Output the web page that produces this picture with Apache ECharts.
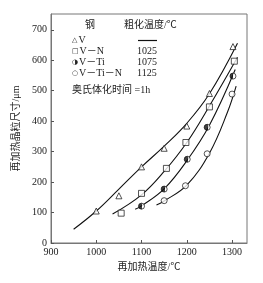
<!DOCTYPE html>
<html>
<head>
<meta charset="utf-8">
<script src="https://cdn.jsdelivr.net/npm/echarts@6/dist/echarts.min.js"></script>
<style>
  html, body { margin: 0; padding: 0; background: #fff; }
  #chart { width: 263px; height: 283px; }
</style>
</head>
<body>
<div id="chart"></div>
<script>
// measured points [temperature °C, grain size μm]
var vPts = [[1000, 105], [1050, 155], [1100, 250], [1150, 311], [1200, 384], [1250, 491], [1302, 645]];
var vnPts = [[1055, 98], [1100, 163], [1155, 245], [1198, 330], [1250, 447], [1305, 597]];
var vtiPts = [[1100, 121], [1150, 177], [1201, 275], [1245, 380], [1302, 548]];
var vtinPts = [[1150, 139], [1197, 188], [1245, 293], [1300, 489]];

// fitted curves
var vCurve = [[950, 45], [1000, 105], [1050, 177], [1100, 250], [1150, 318], [1200, 393], [1250, 490], [1312, 656]];
var vnCurve = [[1036, 95], [1100, 158], [1150, 235], [1200, 330], [1250, 450], [1312, 610]];
var vtiCurve = [[1086, 111], [1100, 122], [1150, 178], [1200, 270], [1250, 387], [1307, 570]];
var vtinCurve = [[1133, 125], [1150, 138], [1200, 190], [1250, 295], [1290, 430], [1309, 515]];

var xTicks = [900, 1000, 1100, 1200, 1300];
var yTicks = [0, 100, 200, 300, 400, 500, 600, 700];

var serif = "'Liberation Serif', 'DejaVu Serif', 'Noto Sans CJK SC', serif";
var cjk = "'Liberation Serif', 'Noto Sans CJK SC', serif";

var chart = echarts.init(document.getElementById("chart"));

function curve(data) {
  return {
    type: "line",
    data: data,
    smooth: 0.4,
    showSymbol: false,
    symbol: "none",
    lineStyle: { color: "#111", width: 1.1 },
    silent: true,
    z: 2
  };
}

function points(data, symbol, size, color) {
  return {
    type: "scatter",
    data: data,
    symbol: symbol,
    symbolSize: size,
    itemStyle: { color: color, borderColor: "#111", borderWidth: 0.9 },
    z: 3
  };
}

var halfFill = new echarts.graphic.LinearGradient(0, 0, 1, 0, [
  { offset: 0, color: "#111" },
  { offset: 0.55, color: "#111" },
  { offset: 0.55, color: "#fff" },
  { offset: 1, color: "#fff" }
]);

var legendRich = {
  m: { fontSize: 7, fontFamily: "'DejaVu Sans', sans-serif", fill: "#222", padding: [0, 1, 0, 0] },
  t: { fontSize: 10, fontFamily: serif, fill: "#222" }
};

function legendText(top, mark, label) {
  return {
    type: "text", left: 72, top: top,
    style: { text: "{m|" + mark + "}{t|" + label + "}", rich: legendRich }
  };
}

var option = {
  animation: false,
  grid: {
    left: 51,
    right: 16,
    top: 14,
    bottom: 40,
    show: true,
    borderColor: "#777",
    borderWidth: 1
  },
  xAxis: {
    type: "value",
    min: 900,
    max: 1333,
    interval: 100,
    name: "再加热温度/℃",
    nameLocation: "middle",
    nameGap: 18,
    nameTextStyle: { fontFamily: cjk, fontSize: 10, color: "#222" },
    axisLine: { show: true, lineStyle: { color: "#777" } },
    axisTick: { show: true, inside: true, length: 3, lineStyle: { color: "#555" } },
    axisLabel: {
      fontFamily: serif, fontSize: 10, color: "#222", margin: 4,
      showMaxLabel: false,
      formatter: function (v) { return xTicks.indexOf(v) >= 0 ? String(v) : ""; }
    },
    splitLine: { show: false }
  },
  yAxis: {
    type: "value",
    min: 0,
    max: 752,
    interval: 100,
    name: "再加热晶粒尺寸/μm",
    nameLocation: "middle",
    nameGap: 24,
    nameTextStyle: { fontFamily: cjk, fontSize: 10, color: "#222" },
    axisLine: { show: true, lineStyle: { color: "#777" } },
    axisTick: { show: true, inside: true, length: 3, lineStyle: { color: "#555" } },
    axisLabel: {
      fontFamily: serif, fontSize: 10, color: "#222", margin: 4,
      showMaxLabel: false,
      formatter: function (v) { return yTicks.indexOf(v) >= 0 ? String(v) : ""; }
    },
    splitLine: { show: false }
  },
  graphic: [
    { type: "text", left: 85, top: 20, style: { text: "钢", font: "10px " + cjk, fill: "#222" } },
    { type: "text", left: 124, top: 20, style: { text: "粗化温度/℃", font: "10px " + cjk, fill: "#222" } },
    { type: "line", shape: { x1: 138, y1: 40.5, x2: 157, y2: 40.5 }, style: { stroke: "#111", lineWidth: 1.2 } },
    legendText(35, "△", "V"),
    legendText(46, "□", "V－N"),
    legendText(57, "◑", "V－Ti"),
    legendText(68, "○", "V－Ti－N"),
    { type: "text", left: 137, top: 46, style: { text: "1025", font: "10px " + serif, fill: "#222" } },
    { type: "text", left: 137, top: 57, style: { text: "1075", font: "10px " + serif, fill: "#222" } },
    { type: "text", left: 137, top: 68, style: { text: "1125", font: "10px " + serif, fill: "#222" } },
    { type: "text", left: 72, top: 85, style: { text: "奥氏体化时间 =1h", font: "10px " + cjk, fill: "#222" } }
  ],
  series: [
    curve(vCurve),
    curve(vnCurve),
    curve(vtiCurve),
    curve(vtinCurve),
    points(vPts, "triangle", 6, "#fff"),
    points(vnPts, "rect", 6, "#fff"),
    points(vtiPts, "circle", 6, halfFill),
    points(vtinPts, "circle", 6, "#fff")
  ]
};

chart.setOption(option);
</script>
</body>
</html>
